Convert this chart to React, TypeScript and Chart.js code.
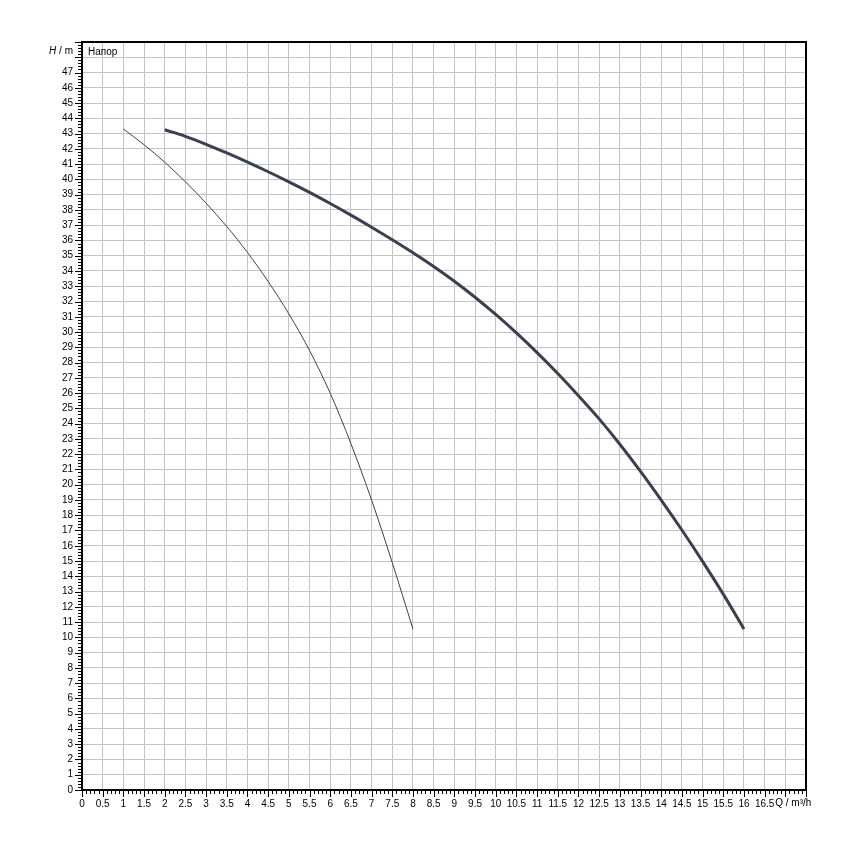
import React, { useEffect, useRef } from "react";
import { Chart, registerables } from "chart.js";

Chart.register(...registerables);

// Thin curve (smaller pump)
const flowA = [1, 1.5, 2, 2.5, 3, 3.5, 4, 4.5, 5, 5.5, 6, 6.5, 7, 7.5, 8];
const headA = [43.3, 42.27, 41.12, 39.84, 38.44, 36.91, 35.21, 33.31, 31.19, 28.79, 25.99, 22.69, 18.99, 14.89, 10.54];

// Thick curve (larger pump)
const flowB = [2, 2.5, 3, 3.5, 4, 4.5, 5, 5.5, 6, 6.5, 7, 7.5, 8, 8.5, 9, 9.5, 10, 10.5, 11, 11.5, 12, 12.5, 13, 13.5, 14, 14.5, 15, 15.5, 16];
const headB = [43.25, 42.82, 42.3, 41.73, 41.13, 40.5, 39.84, 39.15, 38.42, 37.66, 36.87, 36.05, 35.2, 34.3, 33.33, 32.28, 31.15, 29.94, 28.65, 27.28, 25.83, 24.31, 22.65, 20.87, 18.99, 17.03, 14.98, 12.83, 10.55];

const xMin = 0;
const xMax = 17.5;
const xStep = 0.5;
const xMinorStep = 0.1;
const yMin = 0;
const yMax = 49;
const yStep = 1;
const yMinorStep = 0.2;
const xTitleAt = 17;
const yTitleAt = 48;
const xTitle = "Q / m³/h";
const yTitleItalic = "H";
const yTitleRest = " / m";
const legendText = "Напор";

const FONT = "'Liberation Sans', Arial, sans-serif";
const LINE = "#394050";
const GRID = "#c3c3c3";

const near = (a: number, b: number) => Math.abs(a - b) < 1e-6;

const decor = {
  id: "decor",
  afterDraw(chart: any) {
    const { ctx, chartArea: a } = chart;
    const x = chart.scales.x;
    const y = chart.scales.y;
    ctx.save();
    ctx.strokeStyle = "#000";
    ctx.lineWidth = 1;
    ctx.beginPath();
    const nx = Math.round((xMax - xMin) / xMinorStep);
    for (let i = 0; i <= nx; i++) {
      const v = xMin + i * xMinorStep;
      const px = Math.round(x.getPixelForValue(v)) + 0.5;
      const len = i % 5 === 0 ? 7 : 4;
      ctx.moveTo(px, a.bottom);
      ctx.lineTo(px, a.bottom + len);
    }
    const ny = Math.round((yMax - yMin) / yMinorStep);
    for (let i = 0; i <= ny; i++) {
      const v = yMin + i * yMinorStep;
      const py = Math.round(y.getPixelForValue(v)) + 0.5;
      const len = i % 5 === 0 ? 7 : 4;
      ctx.moveTo(a.left, py);
      ctx.lineTo(a.left - len, py);
    }
    ctx.stroke();

    ctx.lineWidth = 2;
    ctx.strokeRect(a.left, a.top, a.right - a.left, a.bottom - a.top);

    ctx.fillStyle = "#000";
    ctx.textBaseline = "middle";
    // legend label
    ctx.font = `10px ${FONT}`;
    ctx.textAlign = "left";
    ctx.fillText(legendText, a.left + 6, a.top + 10);

    // x-axis title
    ctx.textAlign = "center";
    ctx.fillText(xTitle, x.getPixelForValue(xTitleAt) + 8, a.bottom + 13);

    // y-axis title
    const ty = y.getPixelForValue(yTitleAt) - 6;
    ctx.textAlign = "right";
    const restW = ctx.measureText(yTitleRest).width;
    const rx = a.left - 9;
    ctx.fillText(yTitleRest, rx, ty);
    ctx.font = `italic 10px ${FONT}`;
    ctx.fillText(yTitleItalic, rx - restW, ty);
    ctx.restore();
  },
};

export default function App() {
  const ref = useRef<HTMLCanvasElement | null>(null);

  useEffect(() => {
    if (!ref.current) return;
    const chart = new Chart(ref.current, {
      type: "line",
      data: {
        datasets: [
          {
            data: flowB.map((q, i) => ({ x: q, y: headB[i] })),
            borderColor: LINE,
            borderWidth: 3,
            pointRadius: 0,
            cubicInterpolationMode: "monotone",
            fill: false,
          },
          {
            data: flowA.map((q, i) => ({ x: q, y: headA[i] })),
            borderColor: LINE,
            borderWidth: 1,
            pointRadius: 0,
            cubicInterpolationMode: "monotone",
            fill: false,
          },
        ],
      },
      options: {
        responsive: false,
        animation: false,
        layout: { padding: { top: 42, right: 44, left: 0, bottom: 0 } },
        plugins: {
          legend: { display: false },
          tooltip: { enabled: false },
        },
        scales: {
          x: {
            type: "linear",
            position: "bottom",
            min: xMin,
            max: xMax,
            afterFit: (s: any) => {
              s.height = 60;
            },
            border: { display: false },
            grid: { color: GRID, lineWidth: 1, drawTicks: false },
            ticks: {
              stepSize: xStep,
              autoSkip: false,
              maxRotation: 0,
              padding: 8,
              color: "#000",
              font: { family: FONT, size: 10 },
              callback: (v: any) => {
                const n = Number(v);
                if (n > xTitleAt - 1e-6) return "";
                return String(n);
              },
            },
          },
          y: {
            type: "linear",
            min: yMin,
            max: yMax,
            afterFit: (s: any) => {
              s.width = 82;
            },
            border: { display: false },
            grid: { color: GRID, lineWidth: 1, drawTicks: false },
            ticks: {
              stepSize: yStep,
              autoSkip: false,
              padding: 9,
              color: "#000",
              font: { family: FONT, size: 10 },
              callback: (v: any) => {
                const n = Number(v);
                if (n > yTitleAt - 1e-6 || near(n, yMax)) return "";
                return String(n);
              },
            },
          },
        },
      },
      plugins: [decor],
    });
    return () => chart.destroy();
  }, []);

  return (
    <div style={{ position: "absolute", left: 0, top: 0, width: 850, height: 850, background: "#fff" }}>
      <canvas ref={ref} width={850} height={850} style={{ width: 850, height: 850, display: "block" }} />
    </div>
  );
}
